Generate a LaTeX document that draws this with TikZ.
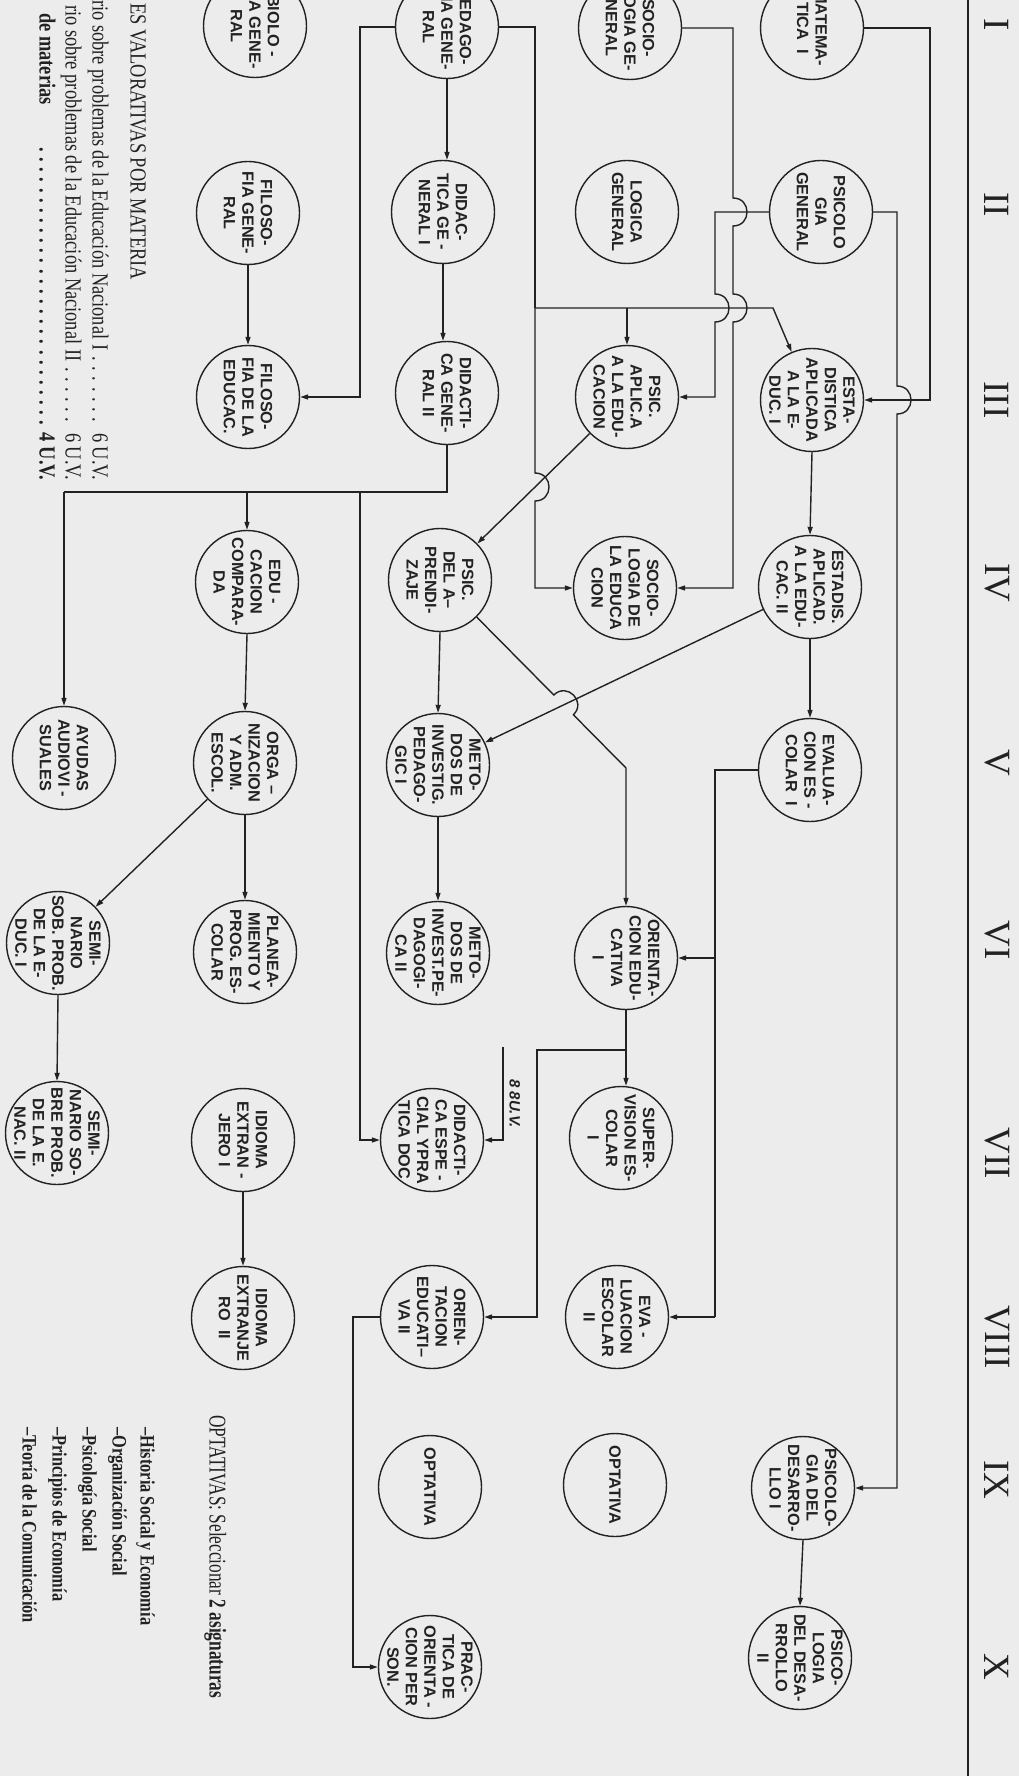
\documentclass[tikz,border=0pt]{standalone}
\usepackage{fontspec}
\setmainfont{Liberation Serif}
\newfontfamily\nodefont{Liberation Sans}
\newfontfamily\condserif{Liberation Serif}[FakeStretch=0.8]
\newfontfamily\optserif{Liberation Serif}[FakeStretch=0.72]
\usetikzlibrary{arrows.meta}
\definecolor{ink}{RGB}{34,34,34}
\definecolor{paper}{RGB}{236,236,236}
\newcommand\course[4]{\node[circ] (#1) at (#2,#3) {}; \node[lbl] (#1t) at (#1) {#4};}
\begin{document}
\begin{tikzpicture}[x=1pt,y=-1pt,
  circ/.style={circle,draw=ink,line width=1.4pt,minimum size=103pt,inner sep=0pt},
  lbl/.style={rotate=-90,align=center,text=ink,inner sep=0pt,font=\nodefont\bfseries\fontsize{16.3}{18.5}\selectfont},
  con/.style={draw=ink,line width=1.4pt},
  arr/.style={con,-{Triangle[length=8pt,width=5pt]}},
  sem/.style={rotate=-90,text=ink,inner sep=0pt,font=\fontsize{37}{40}\selectfont},
  hdr/.style={rotate=-90,anchor=mid west,text=ink,inner sep=0pt,font=\condserif\fontsize{23}{27}\selectfont},
  lst/.style={rotate=-90,anchor=mid west,text=ink,inner sep=0pt,font=\condserif\bfseries\fontsize{20.5}{24}\selectfont},
]
\useasboundingbox (0,0) rectangle (1019,1776);
\clip (0,0) rectangle (1019,1776);
\fill[paper] (0,0) rectangle (1019,1776);

% semester rule and labels
\draw[con,line width=1.7pt] (968,0) -- (968,1776);
\foreach \t/\yy in {I/25,II/205,III/400,IV/583,V/763,VI/940,VII/1153,VIII/1337,IX/1480,X/1667}
  \node[sem] (s\t) at (997,\yy) {\t};

% courses: row A
\course{A1}{812}{28}{MATEMA-\\TICA\ \ I}
\course{A2}{821}{212}{PSICOLO\\GIA\\GENERAL}
\course{A3}{812}{400}{ESTA-\\DISTICA\\APLICADA\\A LA E-\\DUC. I}
\course{A4}{810}{587}{ESTADIS.\\APLICAD.\\A LA EDU-\\CAC. II}
\course{A5}{810}{770}{EVALUA-\\CION ES -\\COLAR\ \ I}
\course{A9}{803}{1488}{PSICOLO-\\GIA DEL\\DESARRO-\\LLO I}
\course{A10}{800}{1658}{PSICO-\\LOGIA\\DEL DESA-\\RROLLO\\II}
% row B
\course{B1}{630}{28}{SOCIO-\\LOGIA GE-\\NERAL}
\course{B2}{627}{212}{LOGICA\\GENERAL}
\course{B3}{627}{397}{PSIC.\\APLIC.A\\A LA EDU-\\CACION}
\course{B4}{625}{588}{SOCIO-\\LOGIA DE\\LA EDUCA\\CION}
\course{B6}{626}{958}{ORIENTA-\\CION EDU-\\CATIVA\\I}
\course{B7}{621}{1138}{SUPER-\\VISION ES-\\COLAR\\I}
\course{B8}{617}{1317}{EVA -\\LUACION\\ESCOLAR\\II}
\course{B9}{615}{1485}{OPTATIVA}
% row C
\course{C1}{447}{27}{PEDAGO-\\GIA GENE-\\RAL}
\course{C2}{443}{212}{DIDAC-\\TICA GE -\\NERAL I}
\course{C3}{447}{393}{DIDACTI-\\CA GENE-\\RAL II}
\course{C4}{440}{580}{PSIC.\\DEL A–\\PRENDI-\\ZAJE}
\course{C5}{438}{765}{METO-\\DOS DE\\INVESTIG.\\PEDAGO-\\GIC I}
\course{C6}{438}{953}{METO-\\DOS DE\\INVEST.PE-\\DAGOGI-\\CA II}
\course{C7}{432}{1140}{DIDACTI-\\CA ESPE -\\CIAL YPRA\\TICA DOC}
\course{C8}{432}{1317}{ORIEN-\\TACION\\EDUCATI–\\VA II}
\course{C9}{430}{1487}{OPTATIVA}
\course{C10}{430}{1667}{PRAC-\\TICA DE\\ORIENTA -\\CION PER\\SON.}
% row D
\course{D1}{255}{26}{BIOLO -\\GIA GENE-\\RAL}
\course{D2}{248}{213}{FILOSO-\\FIA GENE-\\RAL}
\course{D3}{248}{397}{FILOSO-\\FIA DE LA\\EDUCAC.}
\course{D4}{247}{582}{EDU -\\CACION\\COMPARA-\\DA}
\course{D5}{245}{763}{ORGA –\\NIZACION\\Y ADM.\\ESCOL.}
\course{D6}{245}{952}{PLANEA-\\MIENTO Y\\PROG. ES-\\COLAR}
\course{D7}{243}{1140}{IDIOMA\\EXTRAN -\\JERO I}
\course{D8}{243}{1318}{IDIOMA\\EXTRANJE\\RO\ \ II}
% row E
\course{E5}{64}{758}{AYUDAS\\AUDIOVI -\\SUALES}
\course{E6}{58}{943}{SEMI-\\NARIO\\SOB. PROB.\\DE LA E-\\DUC. I}
\course{E7}{57}{1133}{SEMI-\\NARIO SO-\\BRE PROB.\\DE LA E.\\NAC. II}

% connectors
\coordinate (kA1) at (930,28);
\draw[arr] (A1.east) -- (kA1) |- (A3.east);

\coordinate (kA2) at (897,212);
\draw[arr] (A2.east) -- (kA2) -- (897,386) .. controls (915.7,386) and (915.7,414) .. (897,414) |- (A9.east);

\coordinate (kB1) at (733,28);
\draw[arr] (B1.east) -- (kB1) -- (733,198) .. controls (751.7,198) and (751.7,226) .. (733,226) -- (733,294) .. controls (751.7,294) and (751.7,322) .. (733,322) |- (B4.east);

\coordinate (kA2w) at (715,212);
\draw[arr] (A2.west) -- (kA2w) -- (715,294) .. controls (733.7,294) and (733.7,322) .. (715,322) |- (B3.east);

\coordinate (kC1) at (535,27);
\coordinate (jC1) at (535,308);
\coordinate (kC1a) at (773,308);
\draw[con] (C1.east) -- (kC1) -- (jC1);
\draw[arr] (jC1) -- (kC1a) -- (A3);
\draw[arr] (jC1 -| B3) -- (B3.north);
\draw[arr] (jC1) -- (535,473) .. controls (553.7,473) and (553.7,501) .. (535,501) |- (B4.west);

\draw[arr] (C1.south) -- (C1.south |- C2.north);
\coordinate (kC1w) at (360,27);
\draw[arr] (C1.west) -- (kC1w) |- (D3.east);
\draw[arr] (C2.south) -- (C2.south |- C3.north);
\draw[arr] (D2.south) -- (D3.north);

\coordinate (jC3) at (447,492);
\coordinate (kC3) at (64,492);
\coordinate (jC3b) at (360,492);
\draw[con] (C3.south) -- (jC3) -- (kC3);
\draw[arr] (kC3) -- (E5.north);
\draw[arr] (jC3 -| D4) -- (D4.north);
\draw[arr] (jC3b) |- (C7.west);

\draw[arr] (D4.south) -- (D5.north);
\draw[arr] (D5.south) -- (D6.north);
\draw[arr] (D5) -- (E6);
\draw[arr] (E6.south) -- (E7.north);
\draw[arr] (D7.south) -- (D8.north);

\draw[arr] (C4.south) -- (C5.north);
\draw[arr] (C5.south) -- (C6.north);
\draw[arr] (B3) -- (C4);
\coordinate (kC4) at (626,768);
\draw[arr] (C4) -- (553.8,695.0) .. controls (567.1,681.9) and (586.7,701.7) .. (573.4,714.8) -- (kC4) -- (B6.north);

\draw[arr] (A3.south) -- (A4.north);
\draw[arr] (A4.south) -- (A5.north);
\draw[arr] (A4) -- (C5);

\coordinate (kA5) at (715,770);
\coordinate (kA5b) at (715,1317);
\draw[con] (A5.west) -- (kA5) -- (kA5b);
\draw[arr] (kA5 |- B6) -- (B6.east);
\draw[arr] (kA5b) -- (B8.east);

\draw[arr] (B6.south) -- (B6.south |- B7.north);
\coordinate (jB6) at (626,1050);
\draw[arr] (jB6) -- (537,1050) |- (C8.east);

\coordinate (kC8) at (353,1317);
\draw[arr] (C8.west) -- (kC8) |- (C10.west);

\coordinate (uv) at (503,1047);
\draw[arr] (uv) |- (C7.east);
\node[rotate=-90,anchor=mid west,inner sep=0pt,text=ink,font=\nodefont\bfseries\itshape\fontsize{15}{18}\selectfont] (uvt) at (512,1079) {8 8U.V.};

\draw[arr] (A9.south) -- (A10.north);

% header text
\node[hdr] (h0) at (133,3) {ES VALORATIVAS POR MATERIA};
\node[hdr] (h1) at (95,0) {\hbox to 480pt{rio sobre problemas de la Educación Nacional I\dotfill\ 6 U.V.}};
\node[hdr] (h2) at (68,5) {\hbox to 475pt{rio sobre problemas de la Educación Nacional II\dotfill\ 6 U.V.}};
\node[hdr] (h3) at (42,13) {\hbox to 467pt{\bfseries de materias\hspace{40pt}\dotfill\ 4 U.V.}};

% optativas
\node[rotate=-90,anchor=mid west,inner sep=0pt,text=ink,font=\optserif\fontsize{24}{28}\selectfont] (opt) at (212,1415) {OPTATIVAS: Seleccionar {\bfseries 2 asignaturas}};
\node[lst] (o1) at (143,1427) {–Historia Social y Economía};
\node[lst] (o2) at (115,1427) {–Organización Social};
\node[lst] (o3) at (85,1427) {–Psicología Social};
\node[lst] (o4) at (55,1427) {–Principios de Economía};
\node[lst] (o5) at (25,1427) {–Teoría de la Comunicación};
\end{tikzpicture}
\end{document}
